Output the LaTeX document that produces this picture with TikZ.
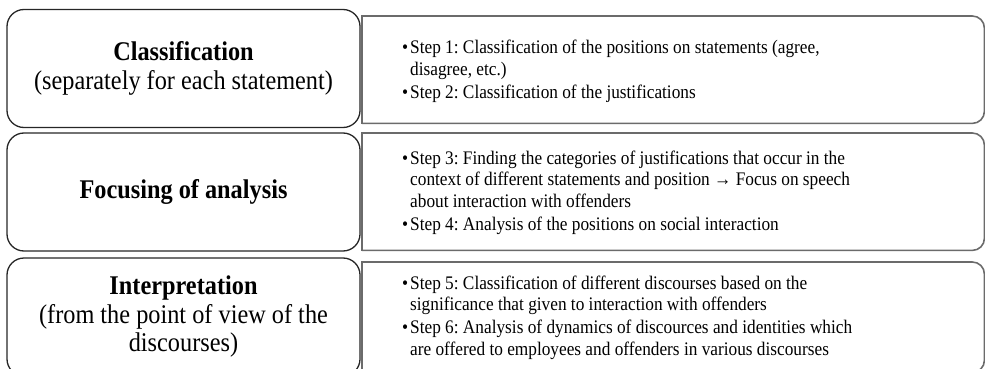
\documentclass[tikz,border=0pt]{standalone}
\usepackage{fontspec}
\setmainfont[FakeStretch=0.9]{Liberation Serif}
\usetikzlibrary{positioning}
\frenchspacing

\begin{document}
\begin{tikzpicture}[
    x=1pt, y=-1pt,
    phasebox/.style={draw=black!85, line width=1.3pt, rounded corners=17pt, inner sep=0pt,
        minimum width=353pt, minimum height=118pt},
    phasetext/.style={align=center, inner sep=0pt, font=\fontsize{27}{28.5}\selectfont},
    stepslot/.style={anchor=north west, inner sep=0pt, minimum width=622pt},
    stepframe/.style={draw=black!58, line width=1.6pt},
    steptext/.style={anchor=base west, inner sep=0pt, font=\fontsize{19.2}{21.5}\selectfont}
]
\useasboundingbox (0,0) rectangle (985,369);

% Phase boxes on the left
\node[phasebox] (p1) at (183.5,68.5) {};
\node[phasebox] (p2) at (183.5,192) {};
\node[phasebox] (p3) at (183.5,317) {};

\node[phasetext] (p1text) at (p1.center) {\textbf{Classification}\\(separately for each statement)};
\node[phasetext] (p2text) at (p2.center) {\textbf{Focusing of analysis}};
\node[phasetext] (p3text) at (p3.center) {\textbf{Interpretation}\\(from the point of view of the\\discourses)};

% Step frames on the right (square on the left, rounded on the right)
\node[stepslot, minimum height=107pt] (s1) at (362,16) {};
\node[stepslot, minimum height=117pt] (s2) at (362,133) {};
\node[stepslot, minimum height=110pt] (s3) at (362,262) {};

\foreach \s in {s1,s2,s3} {
    \draw[stepframe, rounded corners=12pt] (\s.north west) -- (\s.north east) -- (\s.south east) -- (\s.south west);
    \draw[stepframe, line cap=rect] (\s.north west) -- (\s.south west);
}

% Step lists
\node[steptext] (t1) at (402,54) {\begin{tabular}[t]{@{}p{8pt}@{}l@{}}
\textbullet & Step 1: Classification of the positions on statements (agree,\\
 & disagree, etc.)\\[1.5pt]
\textbullet & Step 2: Classification of the justifications
\end{tabular}};
\node[steptext] (t2) at (402,164) {\begin{tabular}[t]{@{}p{8pt}@{}l@{}}
\textbullet & Step 3: Finding the categories of justifications that occur in the\\
 & context of different statements and position → Focus on speech\\
 & about interaction with offenders\\[1.5pt]
\textbullet & Step 4: Analysis of the positions on social interaction
\end{tabular}};
\node[steptext] (t3) at (402,289) {\begin{tabular}[t]{@{}p{8pt}@{}l@{}}
\textbullet & Step 5: Classification of different discourses based on the\\
 & significance that given to interaction with offenders\\[1.5pt]
\textbullet & Step 6: Analysis of dynamics of discources and identities which\\
 & are offered to employees and offenders in various discourses
\end{tabular}};

\end{tikzpicture}
\end{document}
